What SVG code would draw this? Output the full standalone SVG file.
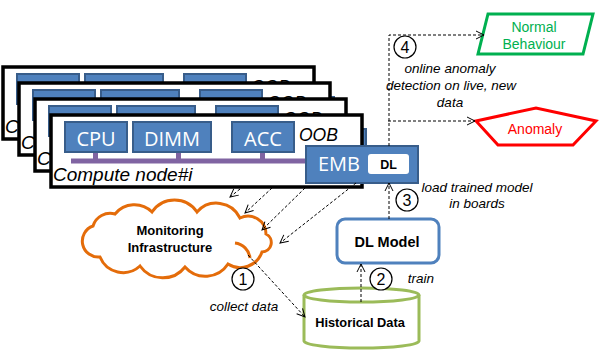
<svg xmlns="http://www.w3.org/2000/svg" width="602" height="356" viewBox="0 0 602 356">
<style>
.frame{fill:#fff;stroke:#000;stroke-width:3.5}
.chip{fill:#4F81BD;stroke:#385D8A;stroke-width:2}
.bus{fill:#8064A2}
.chipt{font-family:"Open Sans",sans-serif;font-size:20px;fill:#fff;text-anchor:middle}
.it{font-family:"Liberation Sans",Arial,sans-serif;font-style:italic;fill:#000}
.b{font-family:"Liberation Sans",Arial,sans-serif;font-weight:bold;fill:#000;text-anchor:middle}
.lbl{font-family:"Liberation Sans",Arial,sans-serif;font-size:13.5px;font-style:italic;text-anchor:middle;fill:#000}
.dash{fill:none;stroke:#000;stroke-width:1;stroke-dasharray:3 2;marker-end:url(#arr)}
.num circle{fill:#fff;stroke:#000;stroke-width:1.2}
.num text{font-family:"Liberation Sans",Arial,sans-serif;font-size:16px;text-anchor:middle;fill:#000}
.shape{stroke-width:3;fill:#fff}
</style>
<defs>
<marker id="arr" markerUnits="userSpaceOnUse" markerWidth="10" markerHeight="10" viewBox="0 0 10 10" refX="9" refY="5" orient="auto">
<path d="M1,1 L9,5 L1,9" fill="none" stroke="#000" stroke-width="1"/>
</marker>
<g id="frame">
<rect class="frame" x="51" y="115" width="311" height="72"/>
<rect class="bus" x="93" y="151" width="5" height="9"/>
<rect class="bus" x="176" y="151" width="5" height="9"/>
<rect class="bus" x="260" y="151" width="5" height="9"/>
<rect class="bus" x="71" y="158.5" width="240" height="5"/>
<rect class="chip" x="65" y="122" width="62" height="30"/>
<rect class="chip" x="133" y="122" width="78" height="30"/>
<rect class="chip" x="232" y="122" width="62" height="30"/>
<text class="chipt" x="96" y="146">CPU</text>
<text class="chipt" x="172" y="146">DIMM</text>
<text class="chipt" x="263" y="146">ACC</text>
<text class="it" x="299" y="141" font-size="17.5">OOB</text>
<text class="it" x="53" y="181" font-size="19">Compute node#i</text>
</g>
</defs>

<g id="compute-node-1"><use href="#frame" transform="translate(-48,-48)"/></g>
<g id="compute-node-2"><rect class="chip" x="222" y="97" width="112" height="37"/><use href="#frame" transform="translate(-32,-32)"/></g>
<g id="compute-node-3"><rect class="chip" x="254" y="129" width="112" height="37"/><use href="#frame" transform="translate(-16,-16)"/></g>
<g id="compute-node-i"><use href="#frame"/></g>

<g id="emb">
<rect class="chip" x="306" y="146" width="112" height="37" stroke-width="2.5"/>
<text class="chipt" x="339" y="171" font-size="21">EMB</text>
<rect x="368" y="154" width="41" height="20" rx="3" fill="#fff"/>
<text class="b" x="388.5" y="168.5" font-size="12.5">DL</text>
</g>

<g id="monitoring">
<path class="shape" stroke="#E46C0A" d="M262,252 A23,23 0 0 1 228,264 A27,27 0 0 1 185,267 A28,28 0 0 1 140,266 A25,25 0 0 1 100,257 A16,16 0 0 1 93,226 A18,18 0 0 1 115,214 A25,25 0 0 1 152,212 A27,27 0 0 1 197,212 A26,26 0 0 1 240,218 A18,18 0 0 1 266,234 A9.5,9.5 0 0 1 262,252 Z"/>
<path d="M235,243 A17,17 0 0 1 250,258" fill="none" stroke="#E46C0A" stroke-width="3"/>
<text class="b" x="170" y="235" font-size="13">Monitoring</text>
<text class="b" x="170" y="252" font-size="13">Infrastructure</text>
</g>

<g id="historical-data">
<path class="shape" stroke="#9BBB59" d="M304,295 L304,341 A57.5,7 0 0 0 419,341 L419,295"/>
<ellipse cx="361.5" cy="295" rx="57.5" ry="7" fill="#fff" stroke="#9BBB59" stroke-width="3"/>
<text class="b" x="360" y="327" font-size="12.8">Historical Data</text>
</g>

<g id="dl-model">
<rect class="shape" stroke="#4F81BD" x="337" y="219" width="102" height="44" rx="8"/>
<text class="b" x="387" y="247" font-size="14.5">DL Model</text>
</g>

<g id="normal-behaviour">
<path class="shape" stroke="#00B050" d="M488,14 L593,14 L583,54 L478,54 Z"/>
<text x="534" y="32" font-family="Liberation Sans, Arial, sans-serif" font-size="14" fill="#00B050" text-anchor="middle">Normal</text>
<text x="534" y="49" font-family="Liberation Sans, Arial, sans-serif" font-size="14" fill="#00B050" text-anchor="middle">Behaviour</text>
</g>

<g id="anomaly">
<path class="shape" stroke="#FF0000" d="M476,121 L536,108 L596,121 L573,145 L498,145 Z"/>
<text x="535" y="134" font-family="Liberation Sans, Arial, sans-serif" font-size="14" fill="#FF0000" text-anchor="middle">Anomaly</text>
</g>

<g id="connectors">
<path class="dash" d="M240,189 L230,197"/>
<path class="dash" d="M272,188 L245,213"/>
<path class="dash" d="M305,188 L262,230"/>
<path class="dash" d="M356,183 L280,243"/>
<path class="dash" d="M248,255 L305,317"/>
<path class="dash" d="M361,302 L361,264"/>
<path class="dash" d="M389,219 L389,183"/>
<path class="dash" d="M389,146 L389,35 L484,35"/>
<path class="dash" d="M388,121 L475,121"/>
</g>

<g id="labels">
<g class="num"><circle cx="243" cy="279" r="11"/><text x="243" y="285">1</text></g>
<g class="num"><circle cx="381" cy="279" r="11"/><text x="381" y="285">2</text></g>
<g class="num"><circle cx="407" cy="200" r="11"/><text x="407" y="206">3</text></g>
<g class="num"><circle cx="405" cy="47" r="11"/><text x="405" y="53">4</text></g>
<text class="lbl" x="244" y="311">collect data</text>
<text class="lbl" x="421" y="283">train</text>
<text class="lbl" x="477" y="192">load trained model</text>
<text class="lbl" x="477" y="208">in boards</text>
<text class="lbl" x="450" y="72.5">online anomaly</text>
<text class="lbl" x="451" y="89.5">detection on live, new</text>
<text class="lbl" x="450" y="106.5">data</text>
</g>
</svg>
